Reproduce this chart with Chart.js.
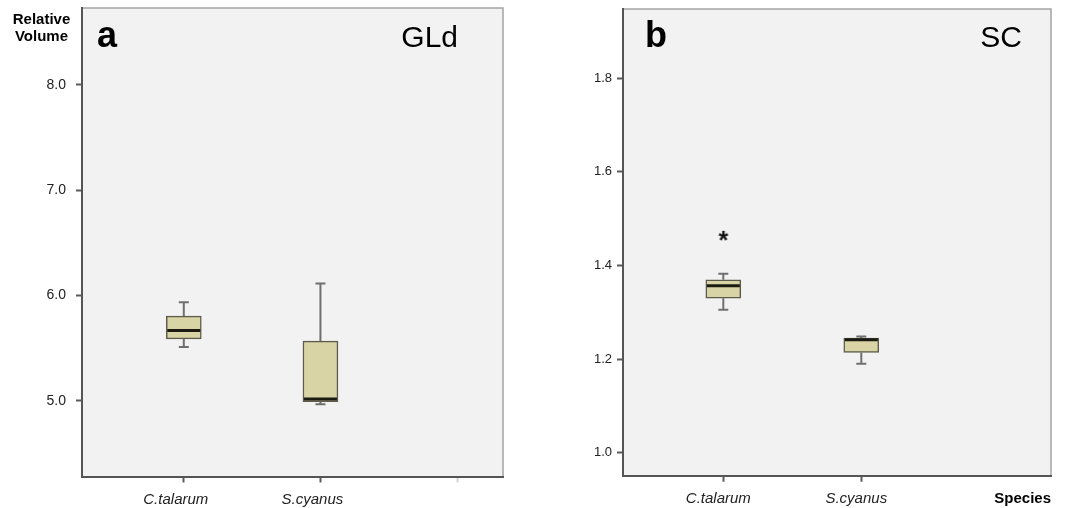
<!DOCTYPE html>
<html>
<head>
<meta charset="utf-8">
<script src="https://cdn.jsdelivr.net/npm/chart.js@4.4.1/dist/chart.umd.min.js"></script>
<style>
  body { margin: 0; background: #fff; }
  .panel { position: absolute; top: 0; height: 508px; }
</style>
</head>
<body>
<div class="panel" style="left:0;width:537px"><canvas id="gld"></canvas></div>
<div class="panel" style="left:537px;width:538px"><canvas id="sc"></canvas></div>
<script>
const categories = ['C.talarum', 'S.cyanus'];

// GLd: box plot statistics per species
const gldMin = [5.51, 4.966];
const gldQ1 = [5.586, 4.99];
const gldMedian = [5.665, 5.015];
const gldQ3 = [5.803, 5.566];
const gldMax = [5.935, 6.112];
const gldTicks = [5.0, 6.0, 7.0, 8.0];

// SC
const scMin = [1.3055, 1.19];
const scQ1 = [1.330, 1.2141];
const scMedian = [1.3567, 1.2415];
const scQ3 = [1.3695, 1.2448];
const scMax = [1.3823, 1.2485];
const scExtreme = [1.4634, null];
const scTicks = [1.0, 1.2, 1.4, 1.6, 1.8];

const FONT = 'Arial, "Liberation Sans", sans-serif';

// asterisk marker for extreme values
const star = document.createElement('canvas');
star.width = 16; star.height = 16;
(function () {
  const c = star.getContext('2d');
  c.font = 'bold 25px ' + FONT;
  c.fillStyle = '#111';
  c.textAlign = 'center';
  const m = c.measureText('*');
  const h = m.actualBoundingBoxAscent + m.actualBoundingBoxDescent;
  c.fillText('*', 8, 8 - h / 2 + m.actualBoundingBoxAscent);
})();

const panelBg = {
  id: 'panelBg',
  beforeDraw(chart) {
    const { ctx, chartArea: a } = chart;
    ctx.save();
    ctx.fillStyle = '#f2f2f2';
    ctx.fillRect(a.left, a.top, a.right - a.left, a.bottom - a.top);
    ctx.strokeStyle = '#a4a4a4';
    ctx.lineWidth = 1.5;
    ctx.beginPath();
    ctx.moveTo(a.left, a.top);
    ctx.lineTo(a.right, a.top);
    ctx.lineTo(a.right, a.bottom);
    ctx.stroke();
    ctx.restore();
  }
};

const whiskers = {
  id: 'whiskers',
  afterDatasetsDraw(chart) {
    const { ctx } = chart;
    const ds = chart.data.datasets[0];
    const y = chart.scales.y;
    const meta = chart.getDatasetMeta(0);
    ctx.save();
    meta.data.forEach((bar, i) => {
      const x = bar.x, half = bar.width / 2;
      const yMin = y.getPixelForValue(ds.wMin[i]);
      const yMax = y.getPixelForValue(ds.wMax[i]);
      const yQ1 = y.getPixelForValue(ds.data[i].y[0]);
      const yQ3 = y.getPixelForValue(ds.data[i].y[1]);
      ctx.strokeStyle = '#6f6f6f';
      ctx.lineWidth = 2;
      ctx.beginPath();
      ctx.moveTo(x, yQ3); ctx.lineTo(x, yMax);
      ctx.moveTo(x - 5, yMax); ctx.lineTo(x + 5, yMax);
      ctx.moveTo(x, yQ1); ctx.lineTo(x, yMin);
      ctx.moveTo(x - 5, yMin); ctx.lineTo(x + 5, yMin);
      ctx.stroke();
      const yMed = y.getPixelForValue(ds.median[i]);
      ctx.strokeStyle = '#1b1b12';
      ctx.lineWidth = 3;
      ctx.beginPath();
      ctx.moveTo(x - half + 1, yMed); ctx.lineTo(x + half - 1, yMed);
      ctx.stroke();
    });
    ctx.restore();
  }
};

const labels = {
  id: 'labels',
  afterDraw(chart, args, o) {
    const { ctx, chartArea: a } = chart;
    ctx.save();
    ctx.fillStyle = '#000';
    ctx.textBaseline = 'alphabetic';
    ctx.font = 'bold 36px ' + FONT;
    ctx.textAlign = 'left';
    ctx.fillText(o.letter, a.left + o.letterDx, 47);
    ctx.font = '30px ' + FONT;
    ctx.textAlign = 'right';
    ctx.fillText(o.name, a.right - o.nameDx, 47);
    if (o.yTitle) {
      ctx.font = 'bold 15px ' + FONT;
      ctx.textAlign = 'center';
      ctx.fillText(o.yTitle[0], 41.5, 24);
      ctx.fillText(o.yTitle[1], 41.5, 41);
    }
    ctx.restore();
  }
};

function makeChart(id, p) {
  const datasets = [{
    type: 'bar',
    data: categories.map((c, i) => ({ x: i + 1, y: [p.q1[i], p.q3[i]] })),
    wMin: p.min, wMax: p.max, median: p.median,
    backgroundColor: '#d9d4a6',
    borderColor: '#5c5b4c',
    borderWidth: 1.5,
    borderSkipped: false,
    barThickness: 35
  }];
  if (p.extreme) {
    datasets.push({
      type: 'scatter',
      data: categories.map((c, i) => ({ x: i + 1, y: p.extreme[i] })),
      pointStyle: star,
      pointRadius: 8
    });
  }
  return new Chart(document.getElementById(id), {
    type: 'bar',
    data: { datasets },
    plugins: [panelBg, whiskers, labels],
    options: {
      responsive: true,
      maintainAspectRatio: false,
      animation: false,
      layout: { padding: { left: 0, right: p.padRight, top: 8, bottom: 0 } },
      plugins: {
        legend: { display: false },
        tooltip: { enabled: false },
        labels: { letter: p.letter, name: p.name, letterDx: p.letterDx, nameDx: p.nameDx, yTitle: p.yTitle }
      },
      scales: {
        x: {
          type: 'linear',
          offset: false,
          min: p.xMin, max: p.xMax,
          afterBuildTicks: s => { s.ticks = p.xTicks.map(v => ({ value: v })); },
          afterFit: s => { s.height = p.xHeight; s.paddingLeft = 0; s.paddingRight = 0; },
          border: { color: '#555', width: 2 },
          grid: {
            offset: false,
            drawOnChartArea: false, tickLength: 6, tickWidth: 2,
            tickColor: c => (c.tick && c.tick.value > categories.length ? '#d4d4d4' : '#5a5a5a')
          },
          ticks: {
            padding: 8,
            labelOffset: p.labelOffset,
            color: '#222',
            font: { family: FONT, size: 15, style: 'italic' },
            callback: v => categories[v - 1] || ''
          },
          title: {
            display: !!p.xTitle,
            text: p.xTitle || '',
            align: 'end',
            color: '#000',
            padding: { top: 0, bottom: 0 },
            font: { family: FONT, size: 15, weight: 'bold' }
          }
        },
        y: {
          min: p.yMin, max: p.yMax,
          afterBuildTicks: s => { s.ticks = p.yTicks.map(v => ({ value: v })); },
          afterFit: s => { s.width = p.yWidth; s.paddingTop = 0; s.paddingBottom = 0; },
          border: { color: '#555', width: 2 },
          grid: { drawOnChartArea: false, tickLength: 6, tickWidth: 2, tickColor: '#5a5a5a' },
          ticks: {
            padding: p.yPad,
            color: '#222',
            font: { family: FONT, size: p.yFont },
            callback: v => v.toFixed(1)
          }
        }
      }
    }
  });
}

makeChart('gld', {
  q1: gldQ1, q3: gldQ3, min: gldMin, max: gldMax, median: gldMedian,
  yTicks: gldTicks, yMin: 4.28, yMax: 8.728, yFont: 14, yPad: 10, yWidth: 82,
  xTicks: [1, 2, 3], xMin: 0.255, xMax: 3.336, xHeight: 31.5, padRight: 34,
  labelOffset: -8,
  letter: 'a', name: 'GLd', letterDx: 15, nameDx: 45,
  yTitle: ['Relative', 'Volume']
});

makeChart('sc', {
  q1: scQ1, q3: scQ3, min: scMin, max: scMax, median: scMedian, extreme: scExtreme,
  yTicks: scTicks, yMin: 0.951, yMax: 1.948, yFont: 13, yPad: 5, yWidth: 86,
  xTicks: [1, 2], xMin: 0.273, xMax: 3.375, xHeight: 32.3, padRight: 24,
  labelOffset: -5,
  letter: 'b', name: 'SC', letterDx: 22, nameDx: 29,
  xTitle: 'Species'
});
</script>
</body>
</html>
